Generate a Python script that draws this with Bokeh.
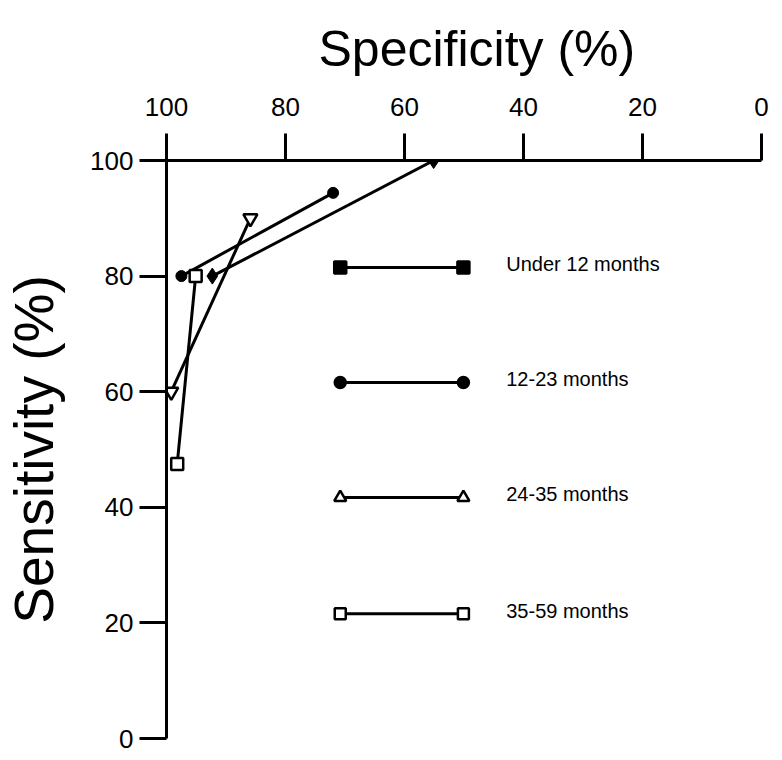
from bokeh.plotting import figure
from bokeh.models import Range1d, FixedTicker, Label, Title
from bokeh.embed import file_html
from bokeh.resources import INLINE

# ---- data ----
spec_u12 = [92.3, 55.1]
sens_u12 = [80, 100]
spec_12_23 = [97.5, 72.0]
sens_12_23 = [80, 94.4]
spec_24_35 = [99.2, 85.9]
sens_24_35 = [60, 90]
spec_35_59 = [98.2, 95.1]
sens_35_59 = [47.5, 80]

x_ticks = [100, 80, 60, 40, 20, 0]
y_ticks = [0, 20, 40, 60, 80, 100]

x_title = "Specificity (%)"
y_title = "Sensitivity (%)"
legend_labels = ["Under 12 months", "12-23 months", "24-35 months", "35-59 months"]

# legend layout (data-space positions of the drawn key)
leg_x0, leg_x1, leg_tx = 70.8, 50.1, 42.9
leg_y = [81.5, 61.6, 41.7, 21.6]

FONT = "Liberation Sans"

p = figure(width=774, height=752, output_backend="svg", toolbar_location=None,
           x_range=Range1d(100, 0), y_range=Range1d(0, 100),
           x_axis_location="above",
           min_border_left=166, min_border_right=13, min_border_top=156, min_border_bottom=14)
p.outline_line_color = None
p.grid.visible = False
p.background_fill_color = "white"
p.border_fill_color = "white"

for ax in (p.xaxis[0], p.yaxis[0]):
    ax.axis_line_width = 3
    ax.axis_line_color = "black"
    ax.major_tick_line_width = 3
    ax.major_tick_line_color = "black"
    ax.major_tick_in = 0
    ax.major_tick_out = 27
    ax.minor_tick_line_color = None
    ax.major_label_text_font = FONT
    ax.major_label_text_font_size = "26px"
    ax.major_label_text_color = "black"
    ax.axis_label_text_font = FONT
    ax.axis_label_text_font_style = "normal"
    ax.axis_label_text_color = "black"

p.xaxis[0].ticker = FixedTicker(ticks=x_ticks)
p.yaxis[0].ticker = FixedTicker(ticks=y_ticks)
p.yaxis[0].axis_label = y_title
p.yaxis[0].axis_label_text_font_size = "55px"
p.xaxis[0].major_label_standoff = 18
p.yaxis[0].major_label_standoff = 6
p.yaxis[0].axis_label_standoff = 22

# top title, slightly right of the frame centre as in the reference
p.add_layout(Title(text=x_title, align="left", offset=152, standoff=36,
                   text_font=FONT, text_font_size="50px", text_font_style="normal",
                   text_color="black"), "above")

LW = 3
# series lines
p.line(spec_u12, sens_u12, line_width=LW, color="black")
p.line(spec_12_23, sens_12_23, line_width=LW, color="black")
p.line(spec_24_35, sens_24_35, line_width=LW, color="black")
p.line(spec_35_59, sens_35_59, line_width=LW, color="black")

# series markers
p.scatter(spec_u12, sens_u12, marker="diamond", size=16, color="black")
p.scatter(spec_12_23, sens_12_23, marker="circle", size=11, color="black")
p.scatter(spec_24_35, sens_24_35, marker="inverted_triangle", size=14,
          fill_color="white", line_color="black", line_width=2.5)
p.scatter(spec_35_59, sens_35_59, marker="square", size=12,
          fill_color="white", line_color="black", line_width=2.5)

# legend key
markers = [("square", 12, "black"), ("circle", 11, "black"),
           ("triangle", 12, "white"), ("square", 11, "white")]
for (mk, sz, fill), yy, lab in zip(markers, leg_y, legend_labels):
    p.line([leg_x0, leg_x1], [yy, yy], line_width=LW, color="black")
    p.scatter([leg_x0, leg_x1], [yy, yy], marker=mk, size=sz,
              fill_color=fill, line_color="black", line_width=2.5)
    p.add_layout(Label(x=leg_tx, y=yy, text=lab, text_font=FONT,
                       text_font_size="20px", text_color="black",
                       text_baseline="middle", text_align="left", y_offset=3))

open("out.html", "w").write(file_html(p, INLINE))
